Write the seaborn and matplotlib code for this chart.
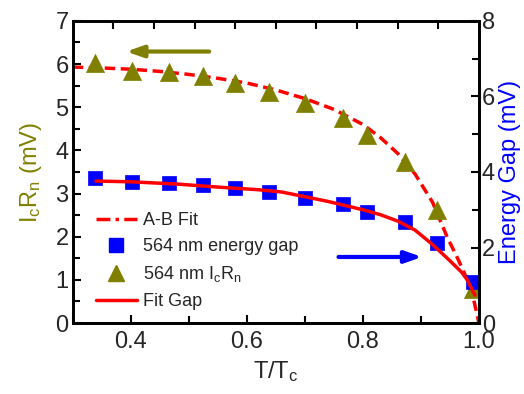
import matplotlib
matplotlib.use('Agg')
import matplotlib.pyplot as plt
from matplotlib.ticker import MultipleLocator
from matplotlib.lines import Line2D
import numpy as np
import pandas as pd
import seaborn as sns

# measured points (T/Tc)
t_meas = [0.338, 0.402, 0.466, 0.525, 0.580, 0.638, 0.700, 0.766, 0.807, 0.872, 0.928, 0.990]
icrn = [6.02, 5.85, 5.82, 5.73, 5.57, 5.36, 5.10, 4.76, 4.36, 3.72, 2.62, 0.80]
gap = [3.84, 3.74, 3.71, 3.66, 3.58, 3.47, 3.31, 3.15, 2.94, 2.68, 2.12, 1.09]

# A-B fit curve (left axis)
ab_t = [0.30, 0.35, 0.40, 0.45, 0.50, 0.55, 0.60, 0.65, 0.70, 0.75, 0.80, 0.83,
        0.86, 0.89, 0.92, 0.945, 0.965, 0.98, 0.99, 1.00]
ab_v = [5.93, 5.91, 5.88, 5.83, 5.76, 5.67, 5.56, 5.40, 5.20, 4.95, 4.60, 4.30,
        3.93, 3.45, 2.80, 2.00, 1.45, 1.00, 0.60, 0.00]

# gap fit curve (right axis)
fit_t = [0.34, 0.40, 0.48, 0.55, 0.62, 0.66, 0.74, 0.80, 0.83, 0.86, 0.89, 0.92,
         0.95, 0.97, 0.98, 0.993]
fit_v = [3.76, 3.74, 3.68, 3.60, 3.53, 3.47, 3.22, 3.00, 2.87, 2.70, 2.46, 2.08,
         1.65, 1.35, 1.14, 0.74]

# top axis tick positions (ten divisions, unlabelled)
top_ticks = [0.37, 0.44, 0.51, 0.58, 0.65, 0.72, 0.79, 0.86, 0.93]

olive = '#808000'
blue = '#0000FF'
red = '#FF0000'

sns.set_style('ticks')
plt.rcParams['font.family'] = ['Liberation Sans', 'DejaVu Sans']
plt.rcParams['mathtext.default'] = 'regular'
plt.rcParams['xtick.direction'] = 'in'
plt.rcParams['ytick.direction'] = 'in'

fig = plt.figure(figsize=(5.24, 3.94), dpi=100)
ax = fig.add_axes([0.139, 0.180, 0.775, 0.767])
ax2 = ax.twinx()

df_meas = pd.DataFrame({'t': t_meas, 'icrn': icrn, 'gap': gap})
df_ab = pd.DataFrame({'t': ab_t, 'v': ab_v})
df_fit = pd.DataFrame({'t': fit_t, 'v': fit_v})

sns.lineplot(data=df_ab, x='t', y='v', ax=ax, color=red, lw=2.5,
             linestyle=(0, (3, 1.6)), sort=False)
sns.scatterplot(data=df_meas, x='t', y='icrn', ax=ax, marker='^', s=170,
                color=olive, edgecolor=olive, linewidth=0.5, zorder=4)
sns.scatterplot(data=df_meas, x='t', y='gap', ax=ax2, marker='s', s=100,
                color=blue, edgecolor=blue, linewidth=0.5, zorder=3)
sns.lineplot(data=df_fit, x='t', y='v', ax=ax2, color=red, lw=2.5, sort=False, zorder=4)

ax.set_xlim(0.3, 1.0)
ax.set_ylim(0, 7)
ax2.set_ylim(0, 8)

ax.set_xticks([0.4, 0.6, 0.8, 1.0])
ax.set_xticklabels(['0.4', '0.6', '0.8', '1.0'])
ax.xaxis.set_minor_locator(MultipleLocator(0.1))
ax.yaxis.set_major_locator(MultipleLocator(1))
ax.yaxis.set_minor_locator(MultipleLocator(0.5))
ax2.yaxis.set_major_locator(MultipleLocator(2))
ax2.yaxis.set_minor_locator(MultipleLocator(1))

for a in (ax, ax2):
    a.tick_params(which='major', length=6, width=1.5, labelsize=17, color='black')
    a.tick_params(which='minor', length=5, width=1.5, color='black')
ax.tick_params(axis='x', which='both', bottom=True, top=False, pad=6)
ax.tick_params(axis='y', pad=3)
ax2.tick_params(axis='y', pad=2)

# top ticks: ten divisions, unlabelled
ax3 = ax.twiny()
ax3.set_xlim(0.3, 1.0)
ax3.set_xticks(top_ticks)
ax3.set_xticks([], minor=True)
ax3.tick_params(axis='x', which='major', direction='in', length=6, width=1.5,
                color='black', top=True, bottom=False, labeltop=False)

for a in (ax, ax2, ax3):
    for s in a.spines.values():
        s.set_linewidth(1.8)
        s.set_color('black')

ax.set_xlabel('T/T$_c$', fontsize=17, labelpad=4)
ax.set_ylabel('I$_c$R$_n$ (mV)', fontsize=17, color=olive, labelpad=8)
ax2.set_ylabel('Energy Gap (mV)', fontsize=17, color=blue, labelpad=3)

# direction arrows
ax.annotate('', xy=(0.392, 6.29), xytext=(0.535, 6.29),
            arrowprops=dict(arrowstyle='-|>,head_length=1.0,head_width=0.35',
                            color=olive, lw=3, shrinkA=0, shrinkB=0))
ax2.annotate('', xy=(0.902, 1.75), xytext=(0.758, 1.75),
             arrowprops=dict(arrowstyle='-|>,head_length=1.0,head_width=0.35',
                             color=blue, lw=3, shrinkA=0, shrinkB=0))

handles = [
    Line2D([], [], color=red, lw=2.5, linestyle=(0, (4, 1.5, 1, 1.5))),
    Line2D([], [], color=blue, marker='s', ms=10, linestyle='none'),
    Line2D([], [], color=olive, marker='^', ms=12, linestyle='none'),
    Line2D([], [], color=red, lw=2.5),
]
labels = ['A-B Fit', '564 nm energy gap', '564 nm I$_c$R$_n$', 'Fit Gap']
ax.legend(handles, labels, loc='lower left', bbox_to_anchor=(0.025, 0.0),
          frameon=False, fontsize=13, handlelength=2.3, handletextpad=0.3,
          labelspacing=0.5, borderaxespad=0.3)

fig.savefig('out.png', dpi=100)
